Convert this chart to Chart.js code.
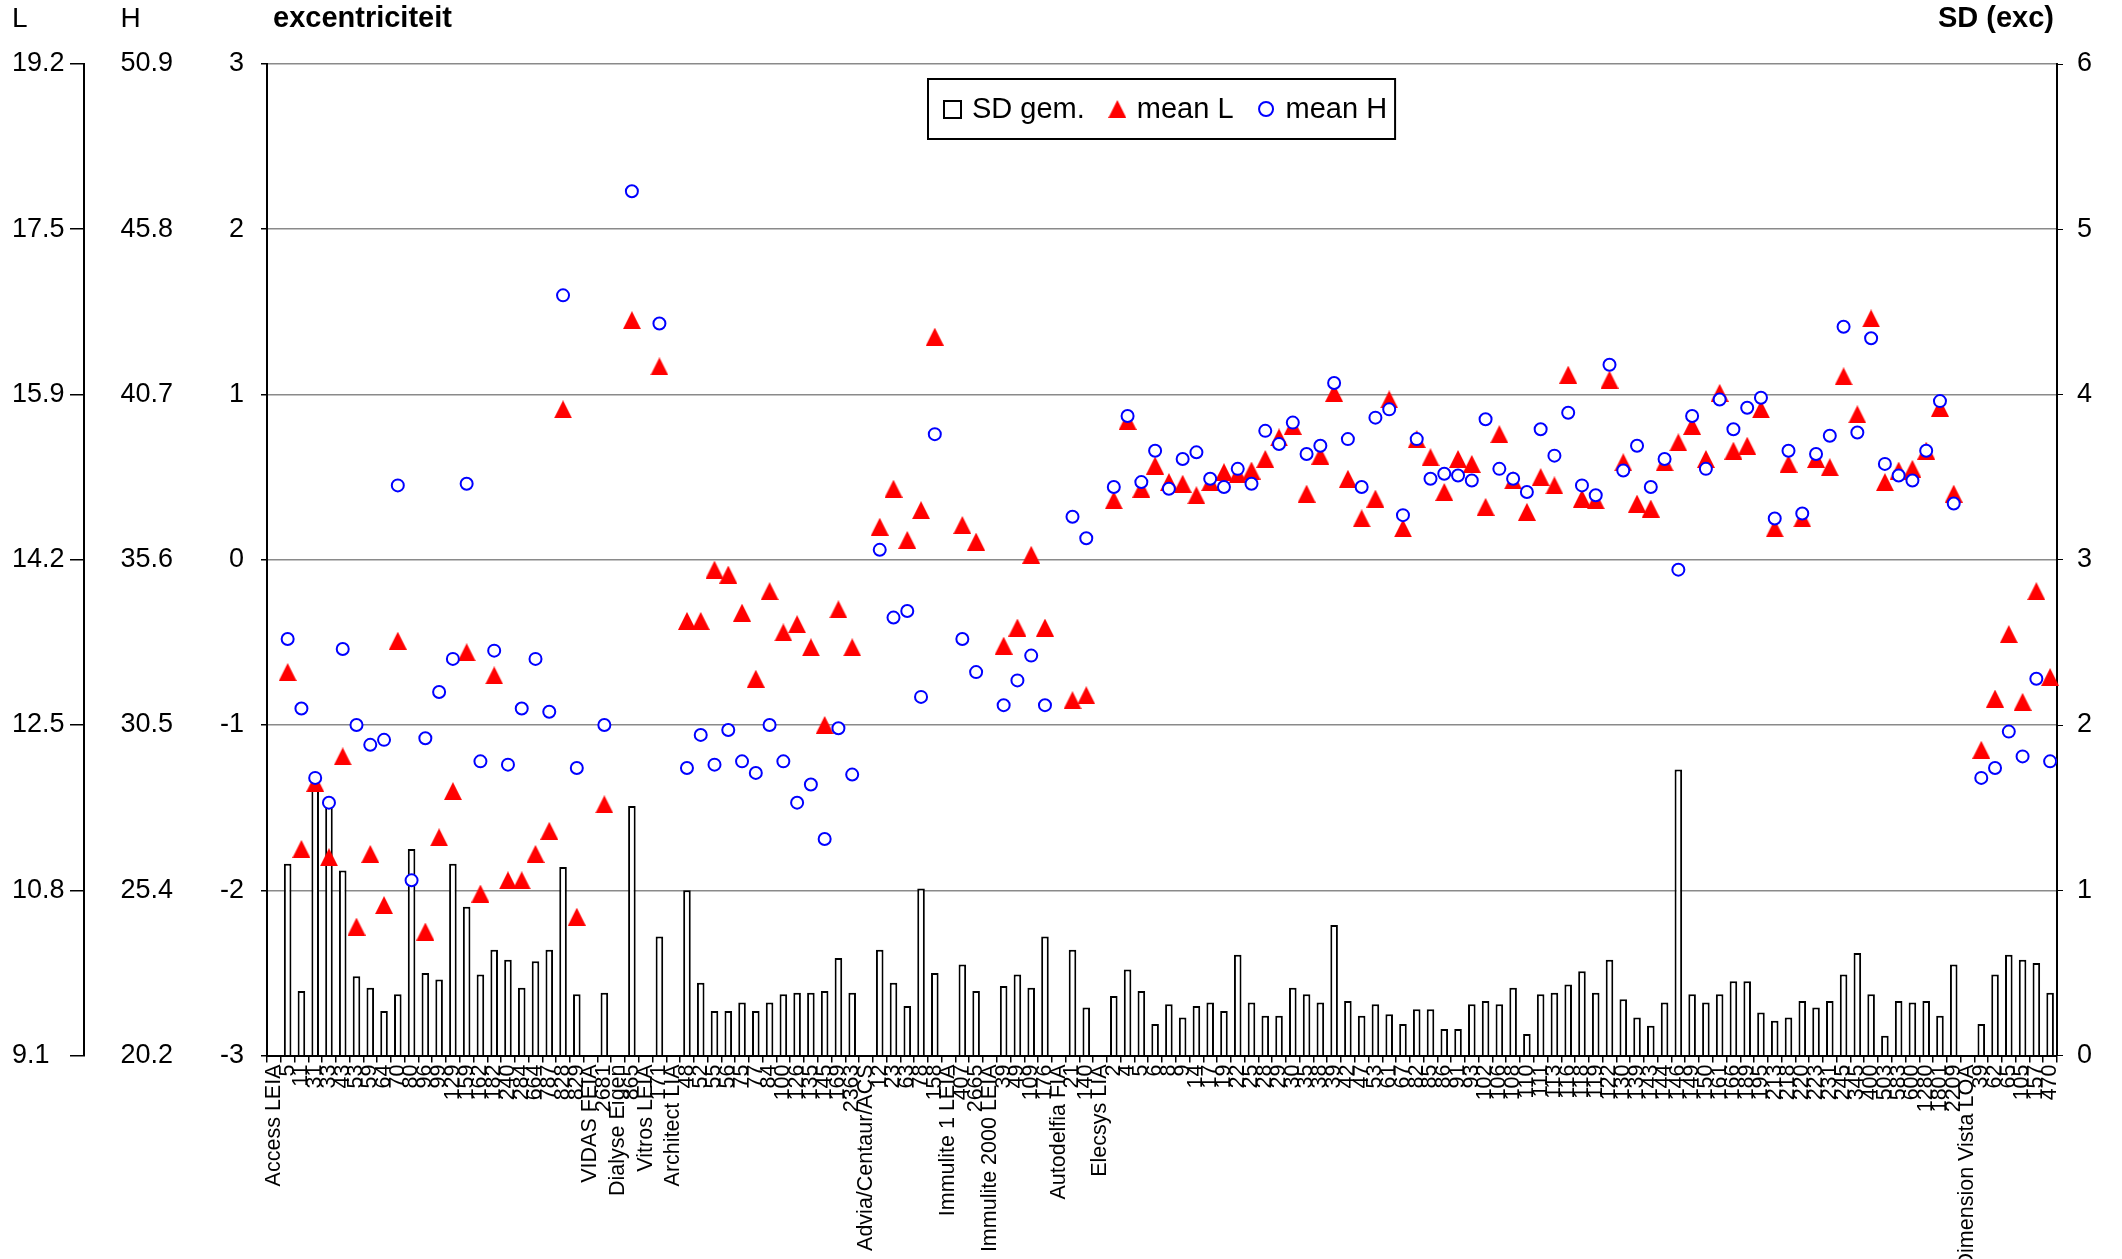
<!DOCTYPE html>
<html>
<head>
<meta charset="utf-8">
<title>excentriciteit per methode en laboratorium</title>
<script src="https://cdn.jsdelivr.net/npm/chart.js@4/dist/chart.umd.min.js"></script>
<style>
  html, body { margin: 0; padding: 0; background: #fff; }
  canvas { display: block; }
</style>
</head>
<body>
<canvas id="grafiek" width="2122" height="1259"></canvas>
<script>
// categorieen: methode (zonder data) gevolgd door de laboratoria van die methode
const categorieen = [
  "Access LEIA", "5", "11", "31", "33", "43", "53", "59", "64", "70", "80", "96", "99",
  "129", "159", "162", "182", "240", "284", "664", "787", "828", "829",
  "VIDAS FEIA", "2681",
  "Dialyse Eigen", "865",
  "Vitros LEIA", "171",
  "Architect LIA", "48", "52", "55", "56", "75", "77", "84", "100", "126", "135", "145", "169", "2363",
  "Advia/Centaur/ACS", "12", "23", "63", "78", "158",
  "Immulite 1 LEIA", "407", "2665",
  "Immulite 2000 LEIA", "39", "49", "109", "176",
  "Autodelfia FIA", "21", "140",
  "Elecsys LIA", "2", "4", "5", "6", "8", "9",
  "14", "17", "19", "22", "25", "28", "29", "30", "35", "38", "39", "42", "47", "53", "61", "67", "82", "85", "86", "91", "93",
  "102", "106", "108", "110", "111", "113", "116", "118", "119", "122", "130", "139", "143", "144", "146", "149", "150", "161", "166", "189", "195",
  "213", "218", "220", "223", "231", "245", "345", "400", "503", "583", "600", "1280", "1801", "2209",
  "Dimension Vista LOA", "39", "62", "65", "105", "157", "470"
];

const meanL = [
  null, -0.68, -1.75, -1.35, -1.80, -1.19, -2.22, -1.78, -2.09, -0.49, null, -2.25, -1.68,
  -1.40, -0.56, -2.02, -0.70, -1.94, -1.94, -1.78, -1.64, 0.91, -2.16,
  null, -1.48,
  null, 1.45,
  null, 1.17,
  null, -0.37, -0.37, -0.06, -0.09, -0.32, -0.72, -0.19, -0.44, -0.39, -0.53, -1.00, -0.30, -0.53,
  null, 0.20, 0.43, 0.12, 0.30, 1.35,
  null, 0.21, 0.11,
  null, -0.52, -0.41, 0.03, -0.41,
  null, -0.85, -0.82,
  null, 0.36, 0.84, 0.43, 0.57, 0.47, 0.46,
  0.39, 0.47, 0.53, 0.52, 0.54, 0.61, 0.74, 0.81, 0.40, 0.63, 1.01, 0.49, 0.25, 0.37, 0.97, 0.19, 0.73, 0.62, 0.41, 0.61, 0.58,
  0.32, 0.76, 0.48, 0.29, 0.50, 0.45, 1.12, 0.37, 0.36, 1.09, 0.59, 0.34, 0.31, 0.59, 0.71, 0.81, 0.61, 1.01, 0.66, 0.69, 0.91,
  0.19, 0.58, 0.25, 0.61, 0.56, 1.11, 0.88, 1.46, 0.47, 0.54, 0.55, 0.66, 0.92, 0.40,
  null, -1.15, -0.84, -0.45, -0.86, -0.19, -0.71
];

const meanH = [
  null, -0.48, -0.90, -1.32, -1.47, -0.54, -1.00, -1.12, -1.09, 0.45, -1.94, -1.08, -0.80,
  -0.60, 0.46, -1.22, -0.55, -1.24, -0.90, -0.60, -0.92, 1.60, -1.26,
  null, -1.00,
  null, 2.23,
  null, 1.43,
  null, -1.26, -1.06, -1.24, -1.03, -1.22, -1.29, -1.00, -1.22, -1.47, -1.36, -1.69, -1.02, -1.30,
  null, 0.06, -0.35, -0.31, -0.83, 0.76,
  null, -0.48, -0.68,
  null, -0.88, -0.73, -0.58, -0.88,
  null, 0.26, 0.13,
  null, 0.44, 0.87, 0.47, 0.66, 0.43, 0.61,
  0.65, 0.49, 0.44, 0.55, 0.46, 0.78, 0.70, 0.83, 0.64, 0.69, 1.07, 0.73, 0.44, 0.86, 0.91, 0.27, 0.73, 0.49, 0.52, 0.51, 0.48,
  0.85, 0.55, 0.49, 0.41, 0.79, 0.63, 0.89, 0.45, 0.39, 1.18, 0.54, 0.69, 0.44, 0.61, -0.06, 0.87, 0.55, 0.97, 0.79, 0.92, 0.98,
  0.25, 0.66, 0.28, 0.64, 0.75, 1.41, 0.77, 1.34, 0.58, 0.51, 0.48, 0.66, 0.96, 0.34,
  null, -1.32, -1.26, -1.04, -1.19, -0.72, -1.22
];

const sdGem = [
  null, 1.16, 0.39, 1.63, 1.52, 1.12, 0.48, 0.41, 0.27, 0.37, 1.25, 0.50, 0.46,
  1.16, 0.90, 0.49, 0.64, 0.58, 0.41, 0.57, 0.64, 1.14, 0.37,
  null, 0.38,
  null, 1.51,
  null, 0.72,
  null, 1.00, 0.44, 0.27, 0.27, 0.32, 0.27, 0.32, 0.37, 0.38, 0.38, 0.39, 0.59, 0.38,
  null, 0.64, 0.44, 0.30, 1.01, 0.50,
  null, 0.55, 0.39,
  null, 0.42, 0.49, 0.41, 0.72,
  null, 0.64, 0.29,
  null, 0.36, 0.52, 0.39, 0.19, 0.31, 0.23,
  0.30, 0.32, 0.27, 0.61, 0.32, 0.24, 0.24, 0.41, 0.37, 0.32, 0.79, 0.33, 0.24, 0.31, 0.25, 0.19, 0.28, 0.28, 0.16, 0.16, 0.31,
  0.33, 0.31, 0.41, 0.13, 0.37, 0.38, 0.43, 0.51, 0.38, 0.58, 0.34, 0.23, 0.18, 0.32, 1.73, 0.37, 0.32, 0.37, 0.45, 0.45, 0.26,
  0.21, 0.23, 0.33, 0.29, 0.33, 0.49, 0.62, 0.37, 0.12, 0.33, 0.32, 0.33, 0.24, 0.55,
  null, 0.19, 0.49, 0.61, 0.58, 0.56, 0.38
];

// labels van de twee extra assen links (zelfde hoogte als -3 .. 3)
const lTickLabels = ["9.1", "10.8", "12.5", "14.2", "15.9", "17.5", "19.2"];
const hTickLabels = ["20.2", "25.4", "30.5", "35.6", "40.7", "45.8", "50.9"];

const FONT = "'Liberation Sans', Arial, sans-serif";
Chart.defaults.font.family = FONT;
Chart.defaults.color = "#000";

function maakDriehoek(size, kleur) {
  const c = document.createElement("canvas");
  c.width = size;
  c.height = size;
  const g = c.getContext("2d");
  g.fillStyle = kleur;
  g.beginPath();
  g.moveTo(size / 2, 0);
  g.lineTo(size, size);
  g.lineTo(0, size);
  g.closePath();
  g.fill();
  return c;
}
const driehoek = maakDriehoek(18, "#ff0000");

// titels boven de assen
const titels = {
  id: "titels",
  afterDraw(chart) {
    const { ctx, chartArea, scales } = chart;
    ctx.save();
    ctx.fillStyle = "#000";
    ctx.textBaseline = "middle";
    ctx.textAlign = "left";
    ctx.font = "28px " + FONT;
    ctx.fillText("L", scales.yL.left, 19);
    ctx.font = "27px " + FONT;
    const hLinks = scales.yH.right - 15 - ctx.measureText("50.9").width;
    ctx.font = "28px " + FONT;
    ctx.fillText("H", hLinks, 19);
    ctx.font = "bold 29px " + FONT;
    ctx.fillText("excentriciteit", chartArea.left + 6, 19);
    ctx.textAlign = "right";
    ctx.fillText("SD (exc)", chartArea.right - 3, 19);
    ctx.restore();
  }
};

// legenda met kader binnen het grafiekgebied
const legenda = {
  id: "legendaKader",
  afterDraw(chart) {
    const { ctx, chartArea } = chart;
    const sets = chart.data.datasets;
    ctx.save();
    ctx.font = "29px " + FONT;
    const marker = 19, gapTekst = 10, gapItem = 23, padL = 15, padR = 8, hoogte = 60;
    const breedtes = sets.map(ds => ctx.measureText(ds.label).width);
    let totaal = padL + padR;
    breedtes.forEach((w, i) => {
      totaal += marker + gapTekst + w + (i < breedtes.length - 1 ? gapItem : 0);
    });
    const x0 = Math.round((chartArea.left + chartArea.right) / 2 - totaal / 2);
    const y0 = Math.round(chartArea.top + 15);
    ctx.fillStyle = "#fff";
    ctx.fillRect(x0, y0, totaal, hoogte);
    ctx.strokeStyle = "#000";
    ctx.lineWidth = 2;
    ctx.strokeRect(x0, y0, totaal, hoogte);

    const yc = y0 + hoogte / 2;
    let x = x0 + padL;
    sets.forEach((ds, i) => {
      const cx = x + marker / 2;
      if (ds.type === "bar") {
        ctx.fillStyle = "#fff";
        ctx.fillRect(x + 1, yc - 8, 17, 17);
        ctx.strokeStyle = "#000";
        ctx.lineWidth = 2;
        ctx.strokeRect(x + 1, yc - 8, 17, 17);
      } else if (ds.pointStyle === driehoek) {
        ctx.drawImage(driehoek, cx - 9, yc - 9);
      } else {
        ctx.beginPath();
        ctx.arc(cx, yc, 7, 0, Math.PI * 2);
        ctx.fillStyle = "#fff";
        ctx.fill();
        ctx.strokeStyle = "#0000ff";
        ctx.lineWidth = 2;
        ctx.stroke();
      }
      ctx.fillStyle = "#000";
      ctx.textAlign = "left";
      ctx.textBaseline = "middle";
      ctx.fillText(ds.label, x + marker + gapTekst, yc + 1);
      x += marker + gapTekst + breedtes[i] + gapItem;
    });
    ctx.restore();
  }
};

new Chart(document.getElementById("grafiek"), {
  type: "bar",
  data: {
    labels: categorieen,
    datasets: [
      {
        type: "bar",
        label: "SD gem.",
        data: sdGem,
        yAxisID: "ySD",
        backgroundColor: "#fff",
        borderColor: "#000",
        borderWidth: 2,
        barPercentage: 0.55,
        categoryPercentage: 1,
        order: 2
      },
      {
        type: "line",
        label: "mean L",
        data: meanL,
        yAxisID: "y",
        showLine: false,
        pointStyle: driehoek,
        pointRadius: 9,
        pointBackgroundColor: "#ff0000",
        pointBorderColor: "#ff0000",
        clip: false,
        order: 1
      },
      {
        type: "line",
        label: "mean H",
        data: meanH,
        yAxisID: "y",
        showLine: false,
        pointStyle: "circle",
        pointRadius: 6,
        pointBorderWidth: 2,
        pointBackgroundColor: "#fff",
        pointBorderColor: "#0000ff",
        clip: false,
        order: 0
      }
    ]
  },
  options: {
    responsive: false,
    animation: false,
    devicePixelRatio: 1,
    layout: { padding: { left: 12, top: 64, right: 0, bottom: 0 } },
    plugins: {
      legend: { display: false },
      tooltip: { enabled: false }
    },
    scales: {
      x: {
        type: "category",
        offset: true,
        grid: { offset: true, drawOnChartArea: false, drawTicks: true, tickLength: 7, tickColor: "#000", lineWidth: 1.5 },
        border: { display: true, color: "#000", width: 2 },
        ticks: { autoSkip: false, minRotation: 90, maxRotation: 90, padding: 2, font: { size: 21.5 } },
        afterFit: s => { s.height = 203.5; }
      },
      y: {
        position: "left",
        weight: 0,
        min: -3,
        max: 3,
        ticks: { stepSize: 1, padding: 17, font: { size: 27 } },
        grid: { color: "#8a8a8a", lineWidth: 1.5, tickLength: 6, tickColor: "#000" },
        border: { display: true, color: "#000", width: 2 },
        afterFit: s => { s.width = 79; }
      },
      yH: {
        position: "left",
        weight: 1,
        min: -3,
        max: 3,
        ticks: { stepSize: 1, padding: 7, font: { size: 27 }, callback: (v, i) => hTickLabels[i] },
        grid: { display: false },
        border: { display: false },
        afterFit: s => { s.width = 104; }
      },
      yL: {
        position: "left",
        weight: 2,
        min: -3,
        max: 3,
        ticks: { stepSize: 1, crossAlign: "far", font: { size: 27 }, callback: (v, i) => lTickLabels[i] },
        grid: { drawOnChartArea: false, tickLength: 14, tickColor: "#000", lineWidth: 1.5 },
        border: { display: true, color: "#000", width: 2 },
        afterFit: s => { s.width = 72; }
      },
      ySD: {
        position: "right",
        min: 0,
        max: 6,
        ticks: { stepSize: 1, padding: 14, font: { size: 27 } },
        grid: { drawOnChartArea: false, tickLength: 6, tickColor: "#000" },
        border: { display: true, color: "#000", width: 2 },
        afterFit: s => { s.width = 65; }
      }
    }
  },
  plugins: [titels, legenda]
});
</script>
</body>
</html>
